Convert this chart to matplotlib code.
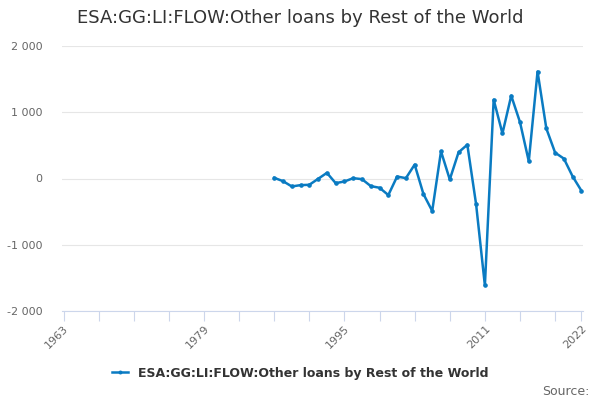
import matplotlib
matplotlib.use("Agg")
import matplotlib.pyplot as plt
from matplotlib.ticker import FuncFormatter, FixedLocator

# data
years = list(range(1987, 2023))
values = [10, -40, -120, -100, -95, -5, 85, -70, -45, 5,
          -10, -115, -140, -250, 30, 5, 210, -235, -490, 410,
          -15, 395, 510, -390, -1615, 1190, 680, 1250, 850, 260,
          1615, 755, 390, 300, 30, -185]
series_name = "ESA:GG:LI:FLOW:Other loans by Rest of the World"
tick_years = list(range(1963, 2020, 4)) + [2022]
label_years = [1963, 1979, 1995, 2011, 2022]
y_ticks = [-2000, -1000, 0, 1000, 2000]

line_col = "#0a7bc2"

fig = plt.figure(figsize=(6, 4), dpi=100)
ax = fig.add_axes([0.103, 0.2225, 0.869, 0.6625])

ax.plot(years, values, color=line_col, lw=1.8, marker="o", ms=2.3,
        label=series_name)

ax.set_ylim(-2000, 2000)
ax.set_xlim(1962.8, 2022.2)
ax.yaxis.set_major_locator(FixedLocator(y_ticks))
ax.yaxis.set_major_formatter(FuncFormatter(lambda v, p: f"{int(v):,}".replace(",", " ")))
ax.grid(axis="y", color="#e6e6e6", lw=0.8)
ax.set_axisbelow(True)

ax.xaxis.set_major_locator(FixedLocator(tick_years))
ax.xaxis.set_major_formatter(FuncFormatter(
    lambda v, p: str(int(round(v))) if int(round(v)) in label_years else ""))
ax.tick_params(axis="x", colors="#666666", labelsize=8, length=7, width=0.8,
               color="#ccd6eb", pad=2, labelrotation=45)
ax.tick_params(axis="y", colors="#666666", labelsize=8, length=0, pad=14)

for s in ["top", "right", "left"]:
    ax.spines[s].set_visible(False)
ax.spines["bottom"].set_color("#ccd6eb")

fig.text(0.5, 0.955, series_name, ha="center", va="center",
         fontsize=13, color="#333333")

fig.legend(loc="center", bbox_to_anchor=(0.5, 0.067), frameon=False,
           prop={"size": 9, "weight": "bold"}, labelcolor="#333333",
           handlelength=1.3, markerscale=0.8)

fig.text(0.982, 0.022, "Source:", ha="right", va="center",
         fontsize=9, color="#666666")

fig.canvas.draw()
for lbl in ax.get_xticklabels():
    lbl.set_ha("right")
    lbl.set_rotation_mode("anchor")

fig.savefig("out.png", dpi=100)
